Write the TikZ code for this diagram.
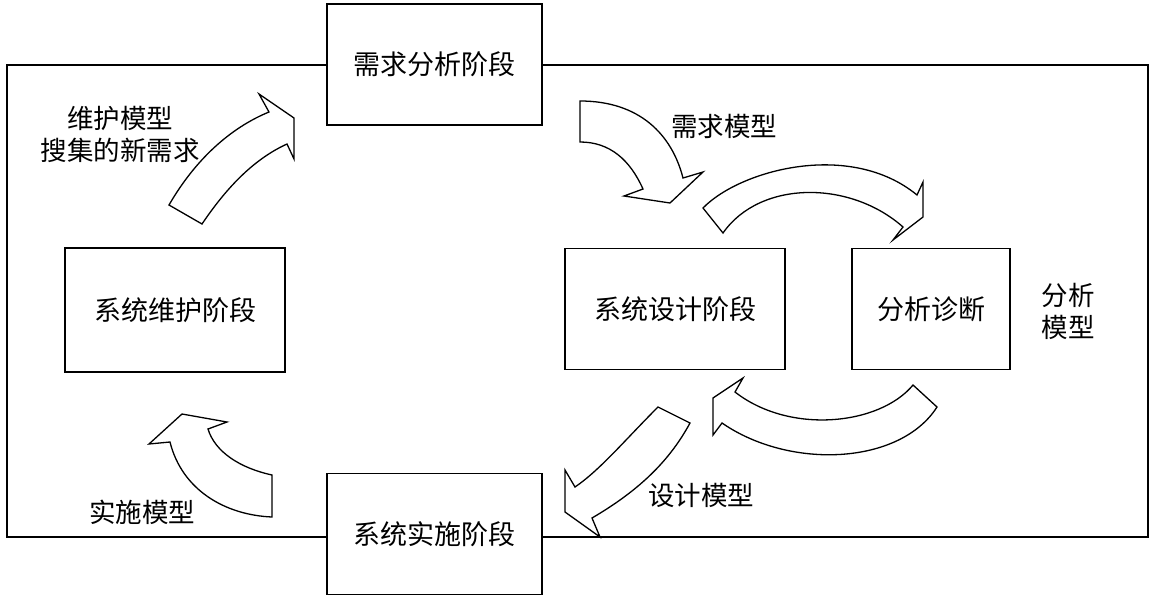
\documentclass[tikz,border=0pt]{standalone}
\usepackage{fontspec}
\setmainfont{Noto Sans CJK SC}
\begin{document}
\begin{tikzpicture}[x=1pt,y=-1pt,
  stagebox/.style={draw=black,line width=1.6pt,fill=white,inner sep=0pt,minimum height=121pt,font=\fontsize{27}{32}\selectfont},
  lbl/.style={font=\fontsize{26.5}{32}\selectfont,align=center,inner sep=0pt},
  blockarrow/.style={draw=black,line width=1.3pt,fill=white,line join=miter}]
\useasboundingbox (0,0) rectangle (1151,597);
% outer frame
\draw[line width=1.6pt] (7,65) rectangle (1148,537);
% stage boxes
\node[stagebox,minimum width=215pt] (req) at (434.5,64.5) {需求分析阶段};
\node[stagebox,minimum width=220pt,minimum height=124pt] (maint) at (175,310) {系统维护阶段};
\node[stagebox,minimum width=220pt] (design) at (675,309) {系统设计阶段};
\node[stagebox,minimum width=158pt] (diag) at (931,309) {分析诊断};
\node[stagebox,minimum width=215pt] (impl) at (434.5,534) {系统实施阶段};
% labels
\node[lbl] (lmaint) at (120,134) {维护模型\\搜集的新需求};
\node[lbl] (lreq) at (724,126) {需求模型};
\node[lbl] (ldiag) at (1068,311) {分析\\模型};
\node[lbl] (ldesign) at (701,495) {设计模型};
\node[lbl] (limpl) at (142,512) {实施模型};
% block arrows
% maintenance -> requirements
\draw[blockarrow] (169,205) .. controls (195,160) and (230,128) .. (269,112)
  -- (259,94) -- (294,118) -- (294,159) -- (287,144)
  .. controls (252,160) and (225,190) .. (202,224) -- cycle;
% requirements -> design
\draw[blockarrow] (580,101) .. controls (640,101) and (672,135) .. (683,178)
  -- (703,172) -- (670,203) -- (624,196) -- (643,189)
  .. controls (630,160) and (610,142) .. (580,142) -- cycle;
% design -> diagnosis
\draw[blockarrow] (703,208) .. controls (740,170) and (850,140) .. (917,195)
  -- (923,182) -- (923,217) -- (893,240) -- (903,227)
  .. controls (850,180) and (760,180) .. (723,233) -- cycle;
% diagnosis -> design
\draw[blockarrow] (913,385) .. controls (880,425) and (790,435) .. (735,392)
  -- (743,378) -- (713,398) -- (713,435) -- (722,423)
  .. controls (790,470) and (900,465) .. (937,407) -- cycle;
% design -> implementation
\draw[blockarrow] (658,407) .. controls (625,440) and (600,470) .. (575,487)
  -- (565,470) -- (565,512) -- (600,537) -- (592,518)
  .. controls (640,490) and (670,460) .. (690,423) -- cycle;
% implementation -> maintenance
\draw[blockarrow] (272,475) .. controls (240,468) and (215,452) .. (208,429)
  -- (227,422) -- (182,414) -- (149,444) -- (170,442)
  .. controls (182,490) and (225,515) .. (272,517) -- cycle;
\end{tikzpicture}
\end{document}
